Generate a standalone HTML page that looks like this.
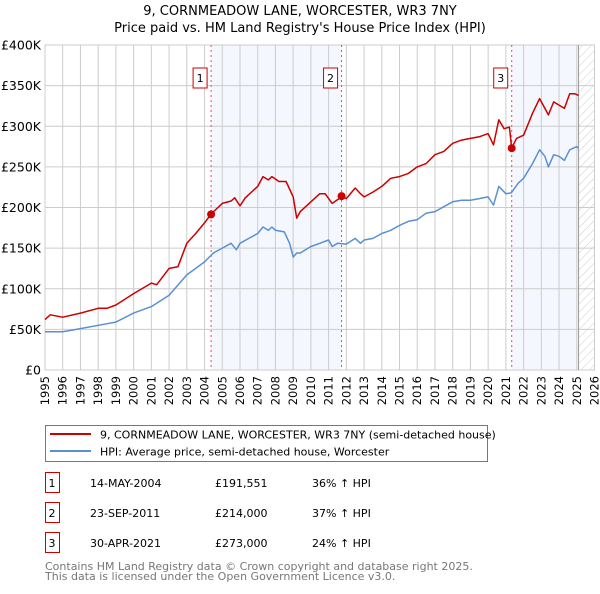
<!DOCTYPE html>
<html><head><meta charset="utf-8"><style>
body{margin:0;background:#fff;font-family:"DejaVu Sans","Liberation Sans",sans-serif;}
svg text{font-family:"DejaVu Sans","Liberation Sans",sans-serif;}
</style></head><body>
<svg id="chart" width="600" height="590" xmlns="http://www.w3.org/2000/svg">
<defs><pattern id="hatch" width="6" height="6" patternUnits="userSpaceOnUse" patternTransform="rotate(45)"><line x1="0" y1="0" x2="0" y2="6" stroke="#ccc" stroke-width="1"/></pattern></defs>
<text x="300" y="15" text-anchor="middle" font-size="13">9, CORNMEADOW LANE, WORCESTER, WR3 7NY</text>
<text x="300" y="32" text-anchor="middle" font-size="13">Price paid vs. HM Land Registry's House Price Index (HPI)</text>
<g id="plot"></g>
<g>
<rect x="45.5" y="425.5" width="442" height="36" fill="#fff" stroke="#777"/>
<line x1="50" y1="434" x2="91" y2="434" stroke="#cc0000" stroke-width="2"/>
<text x="100" y="438.5" font-size="11">9, CORNMEADOW LANE, WORCESTER, WR3 7NY (semi-detached house)</text>
<line x1="50" y1="451" x2="91" y2="451" stroke="#5b8fd4" stroke-width="2"/>
<text x="100" y="455.5" font-size="11">HPI: Average price, semi-detached house, Worcester</text>
</g>
<g id="table" font-size="11"></g>
<text x="45" y="570" font-size="11" fill="#777">Contains HM Land Registry data © Crown copyright and database right 2025.</text>
<text x="45" y="580" font-size="11" fill="#777">This data is licensed under the Open Government Licence v3.0.</text>
</svg>
<script>
const yTicks=[0,50,100,150,200,250,300,350,400];
const yTickLabels=["£0","£50K","£100K","£150K","£200K","£250K","£300K","£350K","£400K"];
const years=[1995,1996,1997,1998,1999,2000,2001,2002,2003,2004,2005,2006,2007,2008,2009,2010,2011,2012,2013,2014,2015,2016,2017,2018,2019,2020,2021,2022,2023,2024,2025,2026];
const hpiT=[1995,1996,1997,1998,1999,2000,2001,2002,2003,2003.5,2004,2004.5,2005,2005.5,2005.8,2006,2006.5,2007,2007.3,2007.6,2007.8,2008,2008.5,2008.8,2009,2009.2,2009.4,2010,2010.5,2011,2011.2,2011.5,2012,2012.5,2012.8,2013,2013.5,2014,2014.5,2015,2015.5,2016,2016.5,2017,2017.5,2018,2018.5,2019,2019.5,2020,2020.3,2020.6,2021,2021.3,2021.7,2022,2022.5,2022.9,2023.2,2023.4,2023.7,2024,2024.3,2024.6,2025,2025.1];
const hpiV=[47,47,51,55,59,70,78,92,117,125,133,144,150,156,148,156,162,168,176,172,176,172,170,156,139,144,144,152,156,160,152,156,155,162,156,160,162,168,172,178,183,185,193,195,201,207,209,209,211,213,203,226,217,218,230,236,254,271,263,250,265,263,258,271,275,273];
const redT=[1995,1995.3,1996,1997,1998,1998.5,1999,2000,2001,2001.3,2002,2002.5,2003,2003.5,2004,2004.37,2005,2005.5,2005.7,2006,2006.3,2007,2007.3,2007.6,2007.8,2008.2,2008.6,2009,2009.2,2009.4,2010,2010.5,2010.8,2011.2,2011.73,2012,2012.5,2012.8,2013,2013.5,2014,2014.5,2015,2015.5,2016,2016.5,2017,2017.5,2018,2018.5,2019,2019.5,2020,2020.3,2020.6,2020.9,2021.2,2021.33,2021.6,2022,2022.5,2022.9,2023.2,2023.4,2023.7,2024,2024.3,2024.6,2024.9,2025.1];
const redV=[62,68,65,70,76,76,80,94,107,105,125,127,156,168,181,192,205,208,212,202,212,226,238,234,238,232,232,213,187,195,207,217,217,205,213,211,224,217,213,219,226,236,238,242,250,254,265,269,279,283,285,287,291,277,308,297,299,273,285,289,316,334,322,314,330,326,322,340,340,338];
const saleT=[2004.37,2011.73,2021.33];
const saleV=[191.551,214,273];
const saleLabels=["1","2","3"];
const saleDates=["14-MAY-2004","23-SEP-2011","30-APR-2021"];
const salePrices=["£191,551","£214,000","£273,000"];
const saleHpi=["36% ↑ HPI","37% ↑ HPI","24% ↑ HPI"];
const dataEnd=2025.1;

const L=45,R=594.5,T=45,B=370;
const x=t=>L+(t-1995)/(2026-1995)*(R-L);
const y=v=>B-v/400*(B-T);
const NS="http://www.w3.org/2000/svg";
const plot=document.getElementById('plot');
function mk(tag,attrs,parent){const e=document.createElementNS(NS,tag);for(const k in attrs)e.setAttribute(k,attrs[k]);(parent||plot).appendChild(e);return e;}
let s=mk('rect',{x:x(saleT[0]),y:T,width:x(saleT[1])-x(saleT[0]),height:B-T,fill:'#f0f4fd',opacity:0.75});


s=mk('rect',{x:x(saleT[2]),y:T,width:x(dataEnd)-x(saleT[2]),height:B-T,fill:'#f0f4fd',opacity:0.75});


s=mk('rect',{x:x(dataEnd),y:T,width:R-x(dataEnd),height:B-T,fill:'url(#hatch)'});


years.forEach(yr=>{const g=mk('line',{x1:x(yr),x2:x(yr),y1:T,y2:B,stroke:'#ccc','stroke-width':1});


const t=mk('text',{transform:`translate(${x(yr)+4},${B+6}) rotate(-90)`,'text-anchor':'end','font-size':11.5});t.textContent=yr;

});
yTicks.forEach((v,i)=>{const g=mk('line',{x1:L,x2:R,y1:y(v),y2:y(v),stroke:'#ccc','stroke-width':1});


const t=mk('text',{x:L-4,y:y(v)+4.5,'text-anchor':'end','font-size':12.5});t.textContent=yTickLabels[i];

});
let b=mk('rect',{x:L,y:T,width:R-L,height:B-T,fill:'none',stroke:'#ccc'});


let el=mk('line',{x1:x(dataEnd),x2:x(dataEnd),y1:T,y2:B,stroke:'#999','stroke-width':1});


saleT.forEach((t,i)=>{const l=mk('line',{x1:x(t),x2:x(t),y1:T,y2:B,stroke:'#e05050','stroke-width':1,'stroke-dasharray':'2,3'});


const r=mk('rect',{x:x(t)-18,y:68,width:14,height:20,fill:'#fff',stroke:'#cc0000'});


const tx=mk('text',{x:x(t)-11,y:82,'text-anchor':'middle','font-size':11});tx.textContent=saleLabels[i];

});
function path(T_,V,c,name){const d=T_.map((t,i)=>(i?'L':'M')+x(t).toFixed(1)+','+y(V[i]).toFixed(1)).join('');
const p=mk('path',{d,fill:'none',stroke:c,'stroke-width':1.5,'stroke-linejoin':'round'});

}
path(hpiT,hpiV,'#5b8fd4','hpi-line');
path(redT,redV,'#cc0000','price-line');
saleT.forEach((t,i)=>{const c=mk('circle',{cx:x(t),cy:y(saleV[i]),r:4,fill:'#cc0000'});

});
const tb=document.getElementById('table');
saleLabels.forEach((l,i)=>{const cy=483+i*30;
const r=mk('rect',{x:45.5,y:cy-10.5,width:14,height:20,fill:'#fff',stroke:'#cc0000'},tb);


[[52,l,'middle'],[90,saleDates[i],'start'],[215,salePrices[i],'start'],[312,saleHpi[i],'start']].forEach(([xx,txt,a])=>{
const t=mk('text',{x:xx,y:cy+4,'text-anchor':a},tb);t.textContent=txt;

});});
</script>
</body></html>
